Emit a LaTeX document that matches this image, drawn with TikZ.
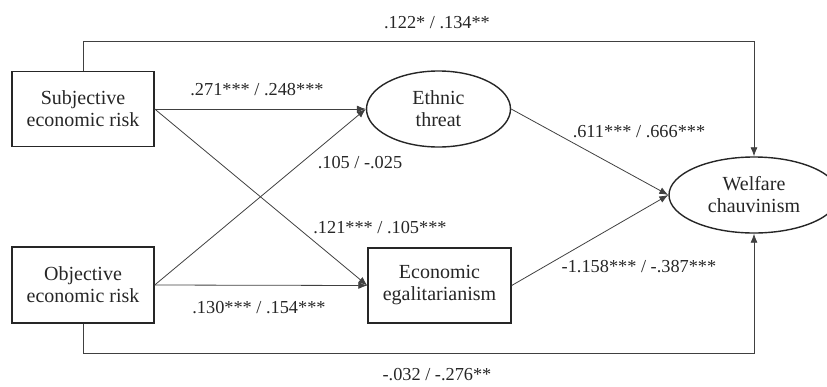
\documentclass[tikz,border=0pt]{standalone}
\usepackage{fontspec}
\setmainfont{Liberation Serif}
\usetikzlibrary{shapes.geometric,arrows.meta}
\begin{document}
\begin{tikzpicture}[x=1pt,y=-1pt,
  every node/.style={font=\fontsize{20}{22}\selectfont, text=black!85},
  boxnode/.style={draw=black!85, line width=1.4pt, rectangle, align=center, inner sep=0pt},
  ellnode/.style={draw=black!85, line width=1.4pt, ellipse, align=center, inner sep=0pt},
  conn/.style={draw=black!75, line width=0.8pt},
  arr/.style={conn, -{Latex[length=9pt,width=7pt]}},
  lbl/.style={inner sep=0pt, font=\fontsize{18.3}{20}\selectfont}
]
\useasboundingbox (0,0) rectangle (827,386);
\node[boxnode, minimum width=142pt, minimum height=75pt] (subj) at (83,109) {Subjective\\economic risk};
\node[boxnode, minimum width=142pt, minimum height=76pt] (obj) at (83,285) {Objective\\economic risk};
\node[ellnode, minimum width=144pt, minimum height=76pt] (eth) at (438.5,109) {Ethnic\\threat};
\node[boxnode, minimum width=143pt, minimum height=75pt] (econ) at (439.5,285.5) {Economic\\egalitarianism};
\node[ellnode, minimum width=170pt, minimum height=76pt] (welf) at (754,195) {Welfare\\chauvinism};

\coordinate (topy) at (0,41);
\coordinate (boty) at (0,353);

\draw[arr] (subj.east) -- (eth.west);
\draw[arr] (subj.east) -- (econ.west);
\draw[arr] (obj.east) -- (eth.west);
\draw[arr] (obj.east) -- (econ.west);
\draw[arr] (eth.east) -- (welf.west);
\draw[arr] (econ.east) -- (welf.west);
\draw[arr] (subj.north) -- (subj.north |- topy) -- (welf.north |- topy) -- (welf.north);
\draw[arr] (obj.south) -- (obj.south |- boty) -- (welf.south |- boty) -- (welf.south);

\node[lbl] (l1) at (437,23) {.122* / .134**};
\node[lbl] (l2) at (257,90) {.271*** / .248***};
\node[lbl] (l3) at (360,163) {.105 / -.025};
\node[lbl] (l4) at (380,228) {.121*** / .105***};
\node[lbl] (l5) at (259,308) {.130*** / .154***};
\node[lbl] (l6) at (639,132) {.611*** / .666***};
\node[lbl] (l7) at (639,267) {-1.158*** / -.387***};
\node[lbl] (l8) at (437,375) {-.032 / -.276**};
\end{tikzpicture}
\end{document}
